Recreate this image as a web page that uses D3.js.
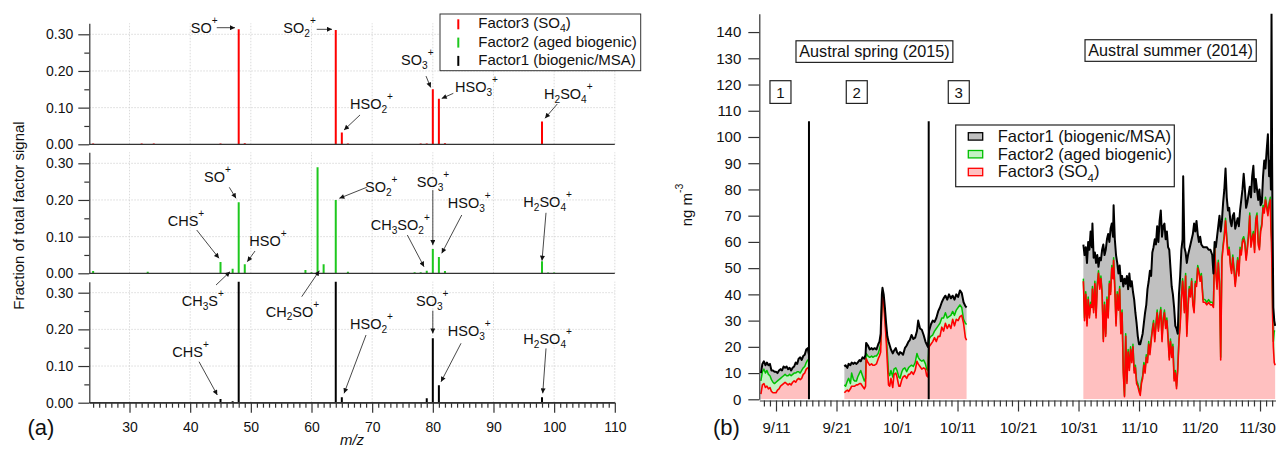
<!DOCTYPE html>
<html>
<head>
<meta charset="utf-8">
<script src="https://cdn.jsdelivr.net/npm/d3@7"></script>
<style>
  body { margin: 0; background: #fff; }
  svg { display: block; }
</style>
</head>
<body>
<svg id="chart" width="1276" height="457"></svg>
<script>
// ---------- (a) factor mass spectra ----------
const mzValues = [24, 32, 33, 34, 44, 45, 46, 47, 48, 49, 50, 59, 60, 61, 62, 64, 65, 66, 77, 78, 79, 80, 81, 82, 96, 98, 99, 100, 101];
const factor3Spectrum = [0.002, 0.002, 0, 0.002, 0.001, 0.002, 0, 0, 0.3136, 0.003, 0.001, 0, 0, 0, 0, 0.3117, 0.032, 0.002, 0.001, 0.002, 0.002, 0.150, 0.124, 0.003, 0, 0.062, 0.001, 0.001, 0];
const factor2Spectrum = [0.006, 0, 0.004, 0, 0, 0.031, 0, 0.0126, 0.194, 0.0245, 0, 0.009, 0.003, 0.289, 0.025, 0.200, 0, 0.004, 0.003, 0.003, 0.007, 0.066, 0.0445, 0.006, 0.001, 0.033, 0.002, 0.002, 0.001];
const factor1Spectrum = [0, 0, 0, 0, 0, 0.010, 0, 0.004, 0.345, 0, 0, 0, 0, 0, 0, 0.345, 0.0147, 0, 0, 0, 0.012, 0.1755, 0.0474, 0, 0, 0.0147, 0, 0, 0];

const fracTicks = [0, 0.1, 0.2, 0.3];
const fracMinorTicks = [0.05, 0.15, 0.25];
const mzTicks = [30, 40, 50, 60, 70, 80, 90, 100, 110];

const factorNames = ["Factor3 (SO_4)", "Factor2 (aged biogenic)", "Factor1 (biogenic/MSA)"];
const barColors = ["#ff0000", "#1ec81e", "#000000"];

// ion labels: panel, text position (m/z, fraction), arrow tail and head (m/z, fraction)
const ionLabels = [
  { panel: 0, label: "SO^+", at: [40.09, 0.3035], from: [44.38, 0.318], to: [47.39, 0.318] },
  { panel: 0, label: "SO_2^+", at: [55.35, 0.3035], from: [60.86, 0.3136], to: [63.38, 0.3136] },
  { panel: 0, label: "HSO_2^+", at: [66.35, 0.0954], from: [68.0, 0.080], to: [65.37, 0.039] },
  { panel: 0, label: "SO_3^+", at: [74.76, 0.216], from: [78.88, 0.186], to: [79.65, 0.155] },
  { panel: 0, label: "HSO_3^+", at: [83.66, 0.143], from: [83.38, 0.139], to: [81.47, 0.125] },
  { panel: 0, label: "H_2SO_4^+", at: [98.33, 0.124], from: [100.52, 0.110], to: [98.5, 0.071] },

  { panel: 1, label: "SO^+", at: [42.28, 0.248], from: [46.45, 0.2345], to: [47.56, 0.2045] },
  { panel: 1, label: "CHS^+", at: [36.3, 0.129], from: [41.08, 0.118], to: [44.75, 0.041] },
  { panel: 1, label: "HSO^+", at: [49.75, 0.0753], from: [50.69, 0.0608], to: [49.42, 0.0316] },
  { panel: 1, label: "CH_3S^+", at: [38.6, -0.0892], from: [44.26, -0.032], to: [46.57, 0.0044] },
  { panel: 1, label: "CH_2SO^+", at: [52.45, -0.118], from: [58.39, -0.0638], to: [61.29, 0.007] },
  { panel: 1, label: "SO_2^+", at: [68.82, 0.2225], from: [69.1, 0.2345], to: [64.59, 0.2045] },
  { panel: 1, label: "SO_3^+", at: [77.35, 0.236], from: [80, 0.227], to: [80, 0.077] },
  { panel: 1, label: "HSO_3^+", at: [82.46, 0.177], from: [84.77, 0.159], to: [81.47, 0.0545] },
  { panel: 1, label: "CH_3SO_2^+", at: [69.76, 0.118], from: [75.8, 0.1044], to: [78.55, 0.018] },
  { panel: 1, label: "H_2SO_4^+", at: [94.92, 0.1816], from: [98.66, 0.165], to: [98.0, 0.0344] },

  { panel: 2, label: "CHS^+", at: [37.06, 0.1254], from: [41.46, 0.1118], to: [44.47, 0.021] },
  { panel: 2, label: "HSO_2^+", at: [66.35, 0.200], from: [68.99, 0.1846], to: [65.37, 0.0256] },
  { panel: 2, label: "SO_3^+", at: [77.23, 0.2637], from: [80, 0.251], to: [80, 0.189] },
  { panel: 2, label: "HSO_3^+", at: [82.46, 0.182], from: [84.65, 0.162], to: [81.35, 0.057] },
  { panel: 2, label: "H_2SO_4^+", at: [94.92, 0.160], from: [98.66, 0.148], to: [98.12, 0.0256] }
];

// ---------- (b) factor time series, rows: [day (1 = 1 Sep), Factor3, Factor2, Factor1] ----------
const period1Rows = [
  [8.5, 2.0, 5.0, 3.0], [8.75, 5.5, 5.0, 3.0], [9.0, 6.0, 5.5, 3.0], [9.25, 4.5, 5.5, 3.0],
  [9.5, 5.0, 6.0, 3.0], [9.75, 4.0, 5.5, 3.5], [10.0, 4.5, 4.5, 4.5], [10.25, 3.0, 4.5, 3.5],
  [10.5, 2.5, 4.0, 4.5], [10.75, 2.5, 3.5, 4.5], [11.0, 2.5, 4.0, 4.0], [11.25, 3.5, 3.5, 3.0],
  [11.5, 4.0, 3.5, 3.5], [11.75, 5.0, 3.0, 3.5], [12.0, 5.5, 3.0, 2.5], [12.25, 6.0, 3.0, 3.5],
  [12.5, 6.5, 3.0, 2.5], [12.75, 6.0, 3.0, 3.5], [13.0, 5.5, 3.5, 2.5], [13.25, 6.0, 3.5, 2.5],
  [13.5, 5.5, 3.5, 2.0], [13.75, 6.5, 3.0, 2.5], [14.0, 7.0, 3.0, 2.5], [14.25, 6.5, 3.5, 4.0],
  [14.5, 7.5, 3.0, 3.0], [14.75, 8.0, 2.5, 5.0], [15.0, 7.5, 2.5, 6.0], [15.25, 8.0, 3.0, 4.0],
  [15.5, 9.5, 2.5, 4.5], [15.75, 10.0, 2.5, 4.5], [16.0, 11.5, 2.5, 5.0], [16.25, 12.0, 3.0, 4.5],
  [16.45, 11.5, 3.5, 2.0]
];
const period2Rows = [
  [22.3, 2.5, 3.0, 7.0], [22.5, 3.0, 2.0, 8.0], [22.8, 3.5, 3.5, 5.0], [23.0, 3.0, 5.0, 5.5],
  [23.3, 4.0, 2.0, 7.0], [23.5, 5.0, 5.0, 4.0], [23.8, 5.0, 2.5, 6.0], [24.0, 5.0, 2.0, 7.0],
  [24.3, 5.5, 1.5, 6.5], [24.5, 5.5, 3.0, 5.5], [24.8, 6.0, 4.0, 5.0], [25.0, 6.0, 5.0, 3.5],
  [25.3, 5.0, 4.0, 7.0], [25.6, 4.0, 3.0, 8.5], [25.8, 5.0, 3.0, 9.0], [25.9, 15.5, 2.0, 4.0],
  [26.2, 14.0, 2.5, 4.0], [26.5, 13.0, 3.0, 3.0], [26.8, 13.5, 3.0, 3.0], [27.0, 13.0, 3.0, 3.0],
  [27.3, 13.0, 3.5, 3.0], [27.6, 13.5, 3.0, 2.5], [27.9, 15.5, 2.0, 3.5], [28.1, 16.5, 2.5, 3.0],
  [28.3, 18.0, 3.0, 4.0], [28.5, 36.0, 2.0, 2.0], [28.6, 39.5, 1.5, 1.5], [28.8, 36.5, 1.5, 2.0],
  [29.0, 30.0, 2.0, 3.0], [29.2, 23.0, 2.0, 4.0], [29.4, 14.0, 4.0, 6.0], [29.6, 5.5, 4.5, 12.0],
  [29.8, 5.0, 4.0, 11.5], [30.0, 8.0, 3.0, 8.0], [30.3, 4.5, 4.0, 9.0], [30.5, 9.5, 2.0, 7.0],
  [30.8, 10.0, 2.0, 7.5], [31.0, 8.5, 2.5, 7.0], [31.3, 5.0, 3.5, 8.5], [31.5, 5.0, 3.0, 10.0],
  [31.8, 7.5, 3.0, 7.0], [32.0, 8.5, 3.0, 5.5], [32.3, 9.0, 3.0, 7.5], [32.6, 8.0, 2.5, 10.0],
  [32.9, 9.5, 2.5, 10.0], [33.1, 9.5, 3.0, 10.0], [33.4, 10.5, 2.5, 11.5], [33.7, 9.5, 3.0, 10.5],
  [34.0, 11.0, 3.0, 9.5], [34.3, 14.5, 3.0, 8.5], [34.5, 13.5, 2.5, 14.0], [34.8, 12.5, 2.5, 12.0],
  [35.1, 11.5, 3.0, 12.0], [35.4, 12.0, 3.0, 9.5], [35.7, 11.5, 2.0, 8.5], [35.9, 9.0, 2.5, 9.5],
  [36.1, 8.5, 2.5, 9.0], [36.3, 20.0, 3.0, 3.0], [36.6, 21.0, 3.0, 4.5], [36.9, 22.0, 2.5, 5.5],
  [37.2, 23.5, 2.5, 3.5], [37.5, 22.0, 5.0, 4.0], [37.8, 24.0, 4.0, 5.5], [38.1, 24.0, 5.0, 6.0],
  [38.4, 27.5, 3.5, 6.0], [38.7, 26.0, 5.0, 7.5], [39.0, 29.0, 4.0, 6.5], [39.3, 27.0, 4.0, 7.0],
  [39.6, 28.5, 3.0, 8.5], [39.9, 27.0, 5.0, 6.5], [40.2, 30.5, 3.0, 6.0], [40.5, 28.0, 4.0, 6.0],
  [40.8, 30.5, 3.5, 6.0], [41.1, 30.0, 5.0, 4.0], [41.4, 31.5, 4.5, 5.5], [41.7, 32.0, 3.0, 5.5],
  [42.0, 29.0, 1.5, 6.5], [42.3, 23.5, 5.5, 6.5], [42.5, 22.5, 6.0, 6.5]
];
const summerRows = [
  [61.8, 45, 1.0, 13], [62.0, 30, 1.0, 24], [62.2, 40, 1.0, 17], [62.4, 28, 1.0, 23],
  [62.6, 38, 1.0, 21], [62.8, 31, 1.0, 25], [63.0, 36, 1.0, 27], [63.2, 35, 1.0, 22],
  [63.3, 42, 1.0, 24], [63.5, 33, 1.0, 20], [63.7, 44, 1.0, 11], [63.9, 31, 1.0, 20],
  [64.1, 43, 1.0, 11], [64.3, 48, 1.0, 1.5], [64.5, 42, 1.0, 11], [64.7, 46, 1.0, 6],
  [64.9, 40, 1.0, 16], [65.1, 22, 1.0, 36], [65.3, 36, 1.0, 18], [65.5, 24, 1.0, 32],
  [65.7, 38, 1.0, 22], [65.9, 31, 1.0, 31], [66.1, 44, 1.0, 15], [66.3, 40, 1.0, 24],
  [66.5, 50, 1.0, 16], [66.7, 46, 1.0, 15], [66.8, 53, 1.0, 20], [67.0, 42, 1.0, 18],
  [67.2, 28, 1.0, 26], [67.4, 40, 1.0, 11], [67.6, 34, 1.0, 13], [67.8, 42, 1.0, 8],
  [68.0, 25, 1.0, 19], [68.2, 33, 1.0, 13], [68.4, 10, 1.0, 32], [68.6, 1, 0.5, 44.5],
  [68.8, 24, 1.0, 19], [69.0, 6, 1.0, 40], [69.2, 18, 1.0, 23], [69.4, 11, 1.0, 36],
  [69.6, 19, 1.0, 23], [69.8, 14, 1.0, 30], [70.0, 20, 1.0, 20], [70.2, 10, 1.0, 27],
  [70.4, 12, 1.0, 20], [70.6, 6, 1.0, 22], [70.8, 5, 1.0, 18], [71.0, 3, 1.0, 17],
  [71.2, 1.5, 1.0, 18.5], [71.4, 6, 1.0, 16], [71.6, 8, 1.0, 16], [71.8, 13, 1.0, 15],
  [72.0, 10, 1.0, 22], [72.2, 16, 1.0, 19], [72.4, 14, 1.0, 27], [72.6, 21, 1.0, 23],
  [72.8, 17, 1.0, 31], [73.0, 22, 1.0, 24], [73.2, 26, 1.0, 29], [73.4, 29, 1.0, 28],
  [73.6, 22, 1.0, 38], [73.8, 28, 1.0, 30], [74.0, 33, 1.0, 32], [74.2, 26, 1.0, 33],
  [74.4, 31, 1.0, 36], [74.6, 34, 1.0, 37], [74.8, 22, 1.0, 39], [75.0, 30, 1.0, 35],
  [75.2, 33, 1.0, 33], [75.4, 27, 1.0, 33], [75.6, 30, 1.0, 33], [75.8, 23, 1.0, 34],
  [76.0, 15, 1.0, 41], [76.2, 22, 1.0, 27], [76.4, 16, 1.0, 26], [76.6, 20, 1.0, 19],
  [76.8, 7, 1.0, 27], [77.0, 10, 1.0, 17], [77.2, 4, 1.0, 22], [77.4, 11, 1.0, 13],
  [77.6, 22, 1.0, 17], [77.8, 28, 1.0, 18], [78.0, 38, 1.0, 18], [78.2, 45, 1.0, 15],
  [78.3, 42, 1.0, 42], [78.5, 33, 1.0, 24], [78.7, 47, 1.0, 8], [78.9, 24, 1.0, 27],
  [79.1, 35, 1.0, 19], [79.3, 42, 1.0, 14], [79.5, 39, 1.0, 19], [79.7, 45, 1.0, 15],
  [79.9, 36, 1.0, 26], [80.1, 33, 1.0, 33], [80.3, 44, 1.0, 19], [80.5, 43, 1.0, 24],
  [80.7, 50, 1.0, 12], [80.9, 48, 1.0, 11], [81.1, 45, 1.0, 16], [81.3, 47, 1.0, 11],
  [81.6, 37, 1.0, 20], [81.9, 37, 1.0, 20], [82.2, 36, 1.0, 21], [82.5, 37, 1.0, 19],
  [82.8, 36, 1.0, 20], [83.1, 36, 1.0, 18], [83.3, 35, 1.0, 12], [83.5, 58, 1.0, 1],
  [83.7, 48, 1.0, 9], [83.9, 42, 1.0, 19], [84.1, 52, 1.0, 13], [84.3, 44, 1.0, 25],
  [84.5, 15, 1.0, 48], [84.7, 53, 1.0, 14], [84.9, 58, 1.0, 16], [85.1, 62, 1.0, 17],
  [85.3, 68, 1.0, 19], [85.5, 61, 1.0, 15], [85.7, 55, 1.0, 16], [85.9, 57, 1.0, 15],
  [86.1, 51, 1.0, 16], [86.3, 48, 1.0, 17], [86.5, 54, 1.0, 15], [86.7, 49, 1.0, 21],
  [86.9, 43, 1.0, 21], [87.1, 48, 1.0, 18], [87.3, 53, 1.0, 15], [87.5, 47, 1.0, 18],
  [87.7, 57, 1.0, 14], [87.9, 55, 1.0, 20], [88.1, 60, 1.0, 19], [88.3, 61, 1.0, 24],
  [88.5, 59, 1.0, 20], [88.7, 53, 1.0, 19], [88.9, 57, 1.0, 17], [89.1, 62, 1.0, 15],
  [89.3, 70, 1.0, 10], [89.5, 58, 1.0, 18], [89.7, 61, 1.0, 23], [89.9, 63, 1.0, 25],
  [90.1, 56, 1.0, 22], [90.3, 68, 1.0, 15], [90.5, 70, 1.0, 9], [90.7, 59, 1.0, 16],
  [90.9, 57, 1.0, 22], [91.1, 64, 1.0, 9], [91.3, 66, 1.0, 8], [91.5, 73, 1.0, 11],
  [91.7, 71, 1.0, 19], [91.9, 76, 1.0, 11], [92.1, 73, 1.0, 21], [92.3, 70, 1.0, 30],
  [92.5, 74, 1.0, 10], [92.7, 76, 1.0, 14], [92.8, 65, 1.0, 14], [92.9, 60, 1.0, 86],
  [93.0, 45, 1.0, 44], [93.1, 30, 1.0, 29], [93.2, 20, 2.0, 13], [93.35, 14, 12.0, 4],
  [93.5, 13, 13.0, 2]
];
const periods = [period1Rows, period2Rows, summerRows];

const periodBreaks = [16.45, 36.24];   // ends of sampling periods 1 and 2
const periodBreakTop = 106;
const periodNumbers = [{ n: "1", day: 11.74 }, { n: "2", day: 24.35 }, { n: "3", day: 41.21 }];
const seasonLabels = [
  { text: "Austral spring (2015)", day: 14.85, value: 130.5 },
  { text: "Austral summer (2014)", day: 62.62, value: 130.9 }
];
const concTicks = [0, 10, 20, 30, 40, 50, 60, 70, 80, 90, 100, 110, 120, 130, 140];
const dayTicks = [11, 21, 31, 41, 51, 61, 71, 81, 91];
const dayTickLabels = ["9/11", "9/21", "10/1", "10/11", "10/21", "10/31", "11/10", "11/20", "11/30"];

const seriesNames = ["Factor1 (biogenic/MSA)", "Factor2 (aged biogenic)", "Factor3 (SO_4)"];
const seriesLine = ["#000000", "#00c000", "#ff0000"];
const seriesFill = ["#c0c0c0", "#c4f2c4", "#ffc0c0"];

// ---------- drawing ----------
const FONT = '"Liberation Sans", Arial, Helvetica, sans-serif';
const INK = "#111";
const AXIS = "#333";
const svg = d3.select("#chart").attr("font-family", FONT);

// text with _sub and ^super characters
function richText(sel, str, size) {
  const parts = [];
  for (let i = 0; i < str.length; i++) {
    const c = str[i];
    let mode = "", ch = c;
    if (c === "_" || c === "^") { mode = c; ch = str[++i]; }
    const last = parts[parts.length - 1];
    if (last && last.mode === mode) last.t += ch; else parts.push({ mode, t: ch });
  }
  let cur = 0;
  parts.forEach(p => {
    const shift = p.mode === "_" ? 0.27 * size : p.mode === "^" ? -0.62 * size : 0;
    sel.append("tspan")
      .attr("dy", shift - cur)
      .attr("font-size", p.mode ? size * 0.7 : size)
      .text(p.t);
    cur = shift;
  });
  return sel;
}

function styleAxis(g, size) {
  g.attr("font-family", FONT).attr("font-size", size);
  g.selectAll("path, line").attr("stroke", AXIS).attr("stroke-width", 1.2);
  g.selectAll("text").attr("fill", INK);
}

const defs = svg.append("defs");
defs.append("marker").attr("id", "arrowHead")
  .attr("viewBox", "0 0 10 10").attr("refX", 10).attr("refY", 5)
  .attr("markerWidth", 10).attr("markerHeight", 5)
  .attr("markerUnits", "userSpaceOnUse").attr("orient", "auto")
  .append("path").attr("d", "M0,0 L10,5 L0,10 z").attr("fill", INK);

// ----- panel (a) -----
const xMz = d3.scaleLinear().domain([23.37, 110]).range([89.3, 614.8]);
const panelBase = [144.3, 273.3, 402.7];
const panelHeight = 121;
const yFrac = panelBase.map(b => d3.scaleLinear().domain([0, 0.33]).range([b, b - panelHeight]));
const spectra = [factor3Spectrum, factor2Spectrum, factor1Spectrum];

const left = svg.append("g");
yFrac.forEach((y, p) => {
  const clipId = "panelClip" + p;
  defs.append("clipPath").attr("id", clipId).append("rect")
    .attr("x", xMz.range()[0]).attr("y", y.range()[1])
    .attr("width", xMz.range()[1] - xMz.range()[0]).attr("height", panelHeight);

  const grid = left.append("g").attr("stroke", "#d0d0d0").attr("stroke-width", 0.8).attr("stroke-dasharray", "1.5,1.5");
  grid.selectAll("line.v").data(mzTicks).join("line")
    .attr("x1", d => xMz(d)).attr("x2", d => xMz(d))
    .attr("y1", y(0)).attr("y2", y.range()[1]);
  grid.selectAll("line.h").data(fracTicks.slice(1)).join("line")
    .attr("x1", xMz.range()[0]).attr("x2", xMz.range()[1])
    .attr("y1", d => y(d)).attr("y2", d => y(d));

  const bars = mzValues.map((m, i) => ({ mz: m, v: spectra[p][i] })).filter(d => d.v > 0);
  left.append("g").attr("clip-path", `url(#${clipId})`)
    .selectAll("line").data(bars).join("line")
    .attr("x1", d => xMz(d.mz)).attr("x2", d => xMz(d.mz))
    .attr("y1", y(0)).attr("y2", d => y(d.v))
    .attr("stroke", barColors[p]).attr("stroke-width", 2);

  // zero line
  left.append("line")
    .attr("x1", xMz.range()[0]).attr("x2", xMz.range()[1])
    .attr("y1", y(0)).attr("y2", y(0))
    .attr("stroke", AXIS).attr("stroke-width", 1.2);

  const ax = left.append("g").attr("transform", `translate(${xMz.range()[0]},0)`)
    .call(d3.axisLeft(y).tickValues(fracTicks).tickFormat(d3.format(".2f"))
      .tickSize(11).tickSizeOuter(0).tickPadding(5));
  styleAxis(ax, 14);
  const axm = left.append("g").attr("transform", `translate(${xMz.range()[0]},0)`)
    .call(d3.axisLeft(y).tickValues(fracMinorTicks).tickFormat("").tickSize(5).tickSizeOuter(0));
  styleAxis(axm, 14);
  axm.select(".domain").remove();
});

const xAxisA = left.append("g").attr("transform", `translate(0,${panelBase[2]})`)
  .call(d3.axisBottom(xMz).tickValues(mzTicks).tickSize(10).tickSizeOuter(0).tickPadding(9));
styleAxis(xAxisA, 14);
const xAxisAMinor = left.append("g").attr("transform", `translate(0,${panelBase[2]})`)
  .call(d3.axisBottom(xMz).tickValues(d3.range(24, 110).filter(d => d % 10 !== 0))
    .tickFormat("").tickSize(5).tickSizeOuter(0));
styleAxis(xAxisAMinor, 14);
xAxisAMinor.select(".domain").remove();

// ion annotations
const ann = left.append("g");
ionLabels.forEach(a => {
  const y = yFrac[a.panel];
  ann.append("line")
    .attr("x1", xMz(a.from[0])).attr("y1", y(a.from[1]))
    .attr("x2", xMz(a.to[0])).attr("y2", y(a.to[1]))
    .attr("stroke", "#333").attr("stroke-width", 0.9)
    .attr("marker-end", "url(#arrowHead)");
  richText(ann.append("text").attr("x", xMz(a.at[0])).attr("y", y(a.at[1])).attr("fill", INK), a.label, 14.5);
});

// axis titles (a)
left.append("text")
  .attr("transform", "translate(23.5,215.5) rotate(-90)")
  .attr("text-anchor", "middle").attr("font-size", 15).attr("fill", INK)
  .text("Fraction of total factor signal");
left.append("text")
  .attr("x", (xMz.range()[0] + xMz.range()[1]) / 2).attr("y", 445)
  .attr("text-anchor", "middle").attr("font-size", 15).attr("font-style", "italic").attr("fill", INK)
  .text("m/z");
left.append("text").attr("x", 41).attr("y", 435).attr("text-anchor", "middle")
  .attr("font-size", 22).attr("fill", INK).text("(a)");

// legend (a)
const legA = left.append("g");
legA.append("rect").attr("x", 440).attr("y", 14).attr("width", 200.7).attr("height", 56.7)
  .attr("fill", "#fff").attr("stroke", "#333").attr("stroke-width", 1);
factorNames.forEach((name, i) => {
  const b = 28.3 + i * 18.3;
  legA.append("line").attr("x1", 458.3).attr("x2", 458.3).attr("y1", b - 9).attr("y2", b + 1)
    .attr("stroke", barColors[i]).attr("stroke-width", 2);
  richText(legA.append("text").attr("x", 478.3).attr("y", b).attr("fill", INK), name, 15);
});

// ----- panel (b) -----
const xDay = d3.scaleLinear().domain([8.24, 93.64]).range([759.3, 1276]);
const yConc = d3.scaleLinear().domain([0, 147]).range([399.3, 13.7]);
const right = svg.append("g");

defs.append("clipPath").attr("id", "tsClip").append("rect")
  .attr("x", xDay.range()[0]).attr("y", yConc.range()[1])
  .attr("width", xDay.range()[1] - xDay.range()[0])
  .attr("height", yConc.range()[0] - yConc.range()[1]);

const plot = right.append("g").attr("clip-path", "url(#tsClip)");
const stack = d3.stack().keys(["f3", "f2", "f1"]);
const area = d3.area().x(d => xDay(d.data.day)).y0(d => yConc(d[0])).y1(d => yConc(d[1]));
const line = d3.line().x(d => xDay(d.data.day)).y(d => yConc(d[1]));
// stack layer index 0 = Factor3, 1 = Factor2, 2 = Factor1
const layerFill = [seriesFill[2], seriesFill[1], seriesFill[0]];
const layerLine = [seriesLine[2], seriesLine[1], seriesLine[0]];
const layerWidth = [1.6, 1.5, 2];

const stacked = periods.map(rows => stack(rows.map(r => ({ day: r[0], f3: r[1], f2: r[2], f1: r[3] }))));
stacked.forEach(layers => {
  layers.forEach((layer, k) => {
    plot.append("path").datum(layer).attr("d", area).attr("fill", layerFill[k]).attr("stroke", "none");
  });
});
[1, 0, 2].forEach(k => {
  stacked.forEach(layers => {
    plot.append("path").datum(layers[k]).attr("d", line)
      .attr("fill", "none").attr("stroke", layerLine[k]).attr("stroke-width", layerWidth[k])
      .attr("stroke-linejoin", "round");
  });
});

right.selectAll("line.break").data(periodBreaks).join("line")
  .attr("x1", d => xDay(d)).attr("x2", d => xDay(d))
  .attr("y1", yConc(0)).attr("y2", yConc(periodBreakTop))
  .attr("stroke", "#000").attr("stroke-width", 2);

const yAxisB = right.append("g").attr("transform", `translate(${xDay.range()[0]},0)`)
  .call(d3.axisLeft(yConc).tickValues(concTicks).tickSize(11).tickSizeOuter(0).tickPadding(7));
styleAxis(yAxisB, 15);

const xAxisB = right.append("g").attr("transform", "translate(0,400.5)")
  .call(d3.axisBottom(xDay).tickValues(dayTicks).tickFormat((d, i) => dayTickLabels[i])
    .tickSize(11).tickSizeOuter(0).tickPadding(11));
styleAxis(xAxisB, 15);
// keep the last date label inside the page edge
xAxisB.selectAll(".tick text").filter(d => d === dayTicks[dayTicks.length - 1]).attr("dx", -3);
const xAxisBMinor = right.append("g").attr("transform", "translate(0,400.5)")
  .call(d3.axisBottom(xDay).tickValues(d3.range(9, 94).filter(d => !dayTicks.includes(d)))
    .tickFormat("").tickSize(6).tickSizeOuter(0));
styleAxis(xAxisBMinor, 15);
xAxisBMinor.select(".domain").remove();

right.append("text").attr("x", 726.5).attr("y", 435).attr("text-anchor", "middle")
  .attr("font-size", 22).attr("fill", INK).text("(b)");
richText(right.append("text")
  .attr("transform", "translate(692,205) rotate(-90)")
  .attr("text-anchor", "middle").attr("fill", INK), "ng m^-^3", 15);

// period numbers
periodNumbers.forEach(p => {
  const cx = xDay(p.day), cy = yConc(117.15);
  right.append("rect").attr("x", cx - 10.5).attr("y", cy - 11.3).attr("width", 21).attr("height", 22.7)
    .attr("fill", "#fff").attr("stroke", "#222").attr("stroke-width", 1.2);
  right.append("text").attr("x", cx).attr("y", cy + 5.5).attr("text-anchor", "middle")
    .attr("font-size", 15).attr("fill", INK).text(p.n);
});

// season labels
seasonLabels.forEach(s => {
  const g = right.append("g");
  const t = g.append("text").attr("x", xDay(s.day)).attr("y", yConc(s.value))
    .attr("font-size", 16.2).attr("fill", INK).text(s.text);
  const bb = t.node().getBBox();
  g.insert("rect", "text").attr("x", bb.x - 3.3).attr("y", bb.y - 1.2)
    .attr("width", bb.width + 6.6).attr("height", bb.height + 3.6)
    .attr("fill", "#fff").attr("stroke", "#222").attr("stroke-width", 1.2);
});

// legend (b)
const legB = right.append("g");
legB.append("rect").attr("x", 955.7).attr("y", 125).attr("width", 218.6).attr("height", 61.7)
  .attr("fill", "#fff").attr("stroke", "#222").attr("stroke-width", 1.2);
seriesNames.forEach((name, i) => {
  const b = 141.7 + i * 17.8;
  legB.append("rect").attr("x", 968.3).attr("y", b - 9).attr("width", 14.4).attr("height", 7.4)
    .attr("fill", seriesFill[i]).attr("stroke", seriesLine[i]).attr("stroke-width", 1.3);
  richText(legB.append("text").attr("x", 997.7).attr("y", b).attr("fill", INK), name, 16.5);
});
</script>
</body>
</html>
